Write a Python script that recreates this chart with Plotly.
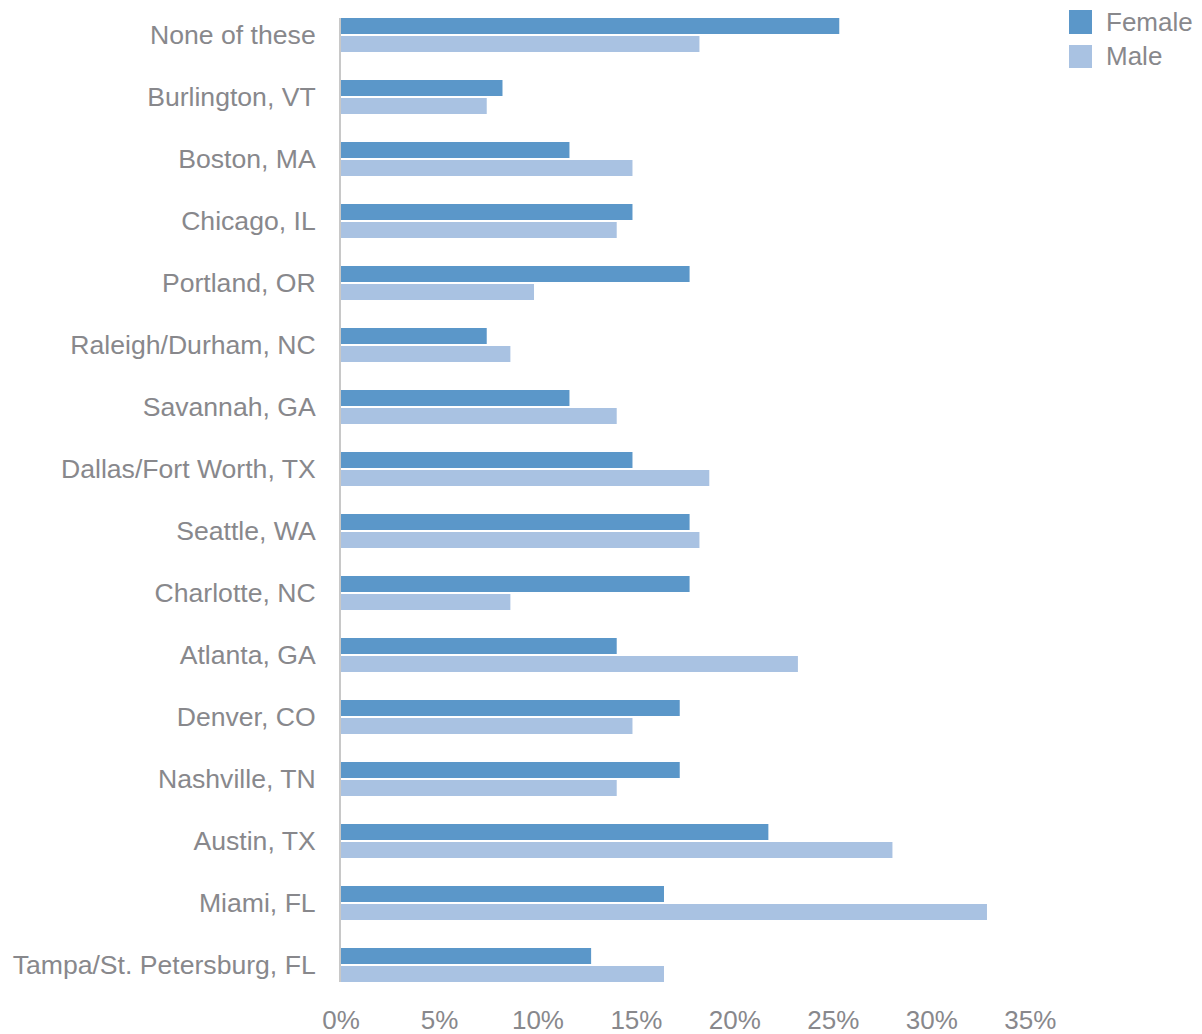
import plotly.graph_objects as go

categories = ["None of these", "Burlington, VT", "Boston, MA", "Chicago, IL", "Portland, OR",
              "Raleigh/Durham, NC", "Savannah, GA", "Dallas/Fort Worth, TX", "Seattle, WA",
              "Charlotte, NC", "Atlanta, GA", "Denver, CO", "Nashville, TN", "Austin, TX",
              "Miami, FL", "Tampa/St. Petersburg, FL"]
female = [25.3, 8.2, 11.6, 14.8, 17.7, 7.4, 11.6, 14.8, 17.7, 17.7, 14.0, 17.2, 17.2, 21.7, 16.4, 12.7]
male = [18.2, 7.4, 14.8, 14.0, 9.8, 8.6, 14.0, 18.7, 18.2, 8.6, 23.2, 14.8, 14.0, 28.0, 32.8, 16.4]
x_ticks = [0, 5, 10, 15, 20, 25, 30, 35]
series_names = ["Female", "Male"]
series_colors = ["#5b97c9", "#a9c2e2"]

FONT = "Liberation Sans, Arial, Helvetica, sans-serif"
GRAY = "#88888c"

fig = go.Figure()
pitch = 62.0
fig.add_trace(go.Bar(y=categories, x=female, orientation="h", name=series_names[0],
                     marker=dict(color=series_colors[0], line=dict(width=0)),
                     width=16 / pitch, offset=-17 / pitch, showlegend=False))
fig.add_trace(go.Bar(y=categories, x=male, orientation="h", name=series_names[1],
                     marker=dict(color=series_colors[1], line=dict(width=0)),
                     width=16 / pitch, offset=1 / pitch, showlegend=False))

# page is offset by 8px body margin
W, H = 1194, 1026
left, right_edge = 333, 1042
top, bottom = 10, 974
xmax = 36.0
pad = 17 / pitch

fig.update_layout(
    width=W, height=H,
    margin=dict(l=left, r=W - right_edge, t=top, b=H - bottom, pad=0),
    paper_bgcolor="white", plot_bgcolor="white",
    barmode="overlay",
    font=dict(family=FONT, size=26, color=GRAY),
    xaxis=dict(range=[0, xmax], tickvals=x_ticks, ticktext=[f"{v}%" for v in x_ticks],
               showgrid=False, zeroline=False, showline=False, ticks="", automargin=False,
               tickfont=dict(size=26, color=GRAY), ticklabelstandoff=20),
    yaxis=dict(type="category", categoryorder="array", categoryarray=categories,
               range=[len(categories) - 1 + pad, -pad], automargin=False,
               showgrid=False, zeroline=False, showline=True, linecolor="#c8c8c8", linewidth=2,
               ticks="", tickfont=dict(size=26.6, color=GRAY), ticklabelstandoff=18),
    showlegend=False,
)

# custom legend (swatch + label), paper pixel positions
legend_rows = [(2, 26), (37, 60)]
for name, color, (y0, y1) in zip(series_names, series_colors, legend_rows):
    fig.add_shape(type="rect", xref="paper", yref="paper",
                  x0=(1061 - left) / (right_edge - left), x1=(1084 - left) / (right_edge - left),
                  y0=1 - (y1 - top) / (bottom - top), y1=1 - (y0 - top) / (bottom - top),
                  line=dict(width=0), fillcolor=color)
    fig.add_annotation(xref="paper", yref="paper",
                       x=(1096 - left) / (right_edge - left),
                       y=1 - ((y0 + y1) / 2 - top) / (bottom - top),
                       text=name, showarrow=False, xanchor="left", yanchor="middle",
                       font=dict(size=26, color=GRAY, family=FONT))

fig.write_html("out.html")
